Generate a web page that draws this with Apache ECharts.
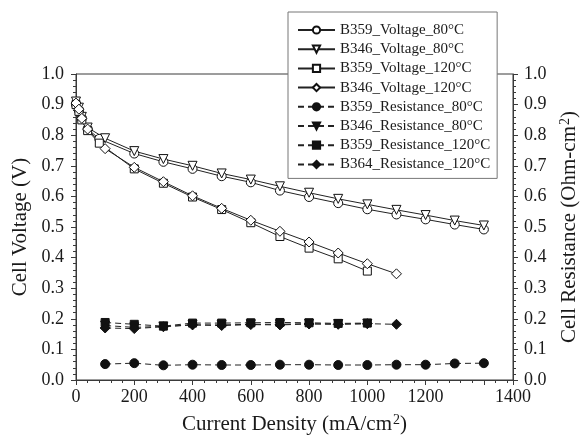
<!DOCTYPE html>
<html><head><meta charset="utf-8">
<script src="https://cdn.jsdelivr.net/npm/echarts@6/dist/echarts.min.js"></script>
<style>html,body{margin:0;padding:0;background:#fff}#c{width:582px;height:442px}</style>
</head><body><div id="c"></div>
<script>
// Current density (mA/cm2)
var xB359V = [0, 10, 20, 40, 80, 200, 300, 400, 500, 600, 700, 800, 900, 1000, 1100, 1200, 1300, 1400];
var xB346V = [0, 10, 20, 40, 100, 200, 300, 400, 500, 600, 700, 800, 900, 1000, 1100, 1200, 1300, 1400];
var xB359V120 = [0, 10, 20, 40, 80, 200, 300, 400, 500, 600, 700, 800, 900, 1000];
var xB346V120 = [0, 10, 20, 40, 100, 200, 300, 400, 500, 600, 700, 800, 900, 1000, 1100];
var xRes80a = [100, 200, 300, 400, 500, 600, 700, 800, 900, 1000, 1100, 1200, 1300, 1400];
var xRes80b = [100, 200, 300, 400, 500, 600, 700, 800, 900, 1000];
var xRes120a = [100, 200, 300, 400, 500, 600, 700, 800, 900, 1000];
var xRes120b = [100, 200, 300, 400, 500, 600, 700, 800, 900, 1000, 1100];

// Cell voltage (V)
var B359_Voltage_80 = [0.900, 0.880, 0.855, 0.820, 0.788, 0.740, 0.713, 0.690, 0.666, 0.646, 0.619, 0.598, 0.578, 0.558, 0.541, 0.525, 0.508, 0.492];
var B346_Voltage_80 = [0.910, 0.890, 0.860, 0.825, 0.790, 0.748, 0.722, 0.700, 0.675, 0.655, 0.633, 0.612, 0.592, 0.574, 0.556, 0.539, 0.521, 0.505];
var B359_Voltage_120 = [0.900, 0.878, 0.850, 0.815, 0.774, 0.690, 0.643, 0.598, 0.557, 0.514, 0.469, 0.431, 0.396, 0.356];
var B346_Voltage_120 = [0.905, 0.885, 0.855, 0.820, 0.756, 0.695, 0.648, 0.602, 0.561, 0.522, 0.486, 0.451, 0.415, 0.380, 0.347];

// Cell resistance (Ohm-cm2)
var B359_Resistance_80 = [0.052, 0.055, 0.048, 0.050, 0.049, 0.049, 0.050, 0.050, 0.049, 0.049, 0.050, 0.050, 0.054, 0.055];
var B346_Resistance_80 = [0.178, 0.172, 0.175, 0.180, 0.180, 0.182, 0.182, 0.184, 0.183, 0.184];
var B359_Resistance_120 = [0.188, 0.182, 0.176, 0.186, 0.186, 0.187, 0.188, 0.187, 0.185, 0.186];
var B364_Resistance_120 = [0.170, 0.168, 0.174, 0.180, 0.178, 0.181, 0.180, 0.183, 0.182, 0.184, 0.182];

var xTickLabelsShown = {0:'0',200:'200',400:'400',600:'600',800:'800',1000:'1000',1200:'1200',1500:'1400'};

function pairs(xs, ys){ return xs.map(function(x,i){ return [x, ys[i]]; }); }

var FONT = 'Liberation Serif';
var AX = '#3a3a3a';
var TXT = '#1a1a1a';

function lineSeries(name, xs, ys, symbol, filled, dashed, axisIdx, rot){
  return {
    name: name, type: 'line', yAxisIndex: axisIdx,
    data: pairs(xs, ys),
    symbol: symbol, symbolSize: symbol === 'rect' ? 8 : (symbol === 'diamond' ? 10 : 9),
    symbolRotate: rot || 0,
    showAllSymbol: true,
    lineStyle: { color: '#222', width: 1, type: dashed ? [6, 4] : 'solid' },
    itemStyle: { color: filled ? '#111' : '#fff', borderColor: '#111', borderWidth: 1 },
    emphasis: { disabled: true },
    animation: false, z: filled ? 3 : 2
  };
}

var axisBase = function(){
  return {
    axisLine: { show: true, lineStyle: { color: AX, width: 1 } },
    axisTick: { show: true, length: 5, lineStyle: { color: AX } },
    minorTick: { show: true, splitNumber: 5, length: 3, lineStyle: { color: AX } },
    splitLine: { show: false }
  };
};
var richName = {
  a: { fontFamily: FONT, fontSize: 21, color: TXT },
  s: { fontFamily: FONT, fontSize: 14, color: TXT, padding: [0, 0, 9, 1] }
};

var xAxis = axisBase();
Object.assign(xAxis, {
  type: 'value', min: 0, max: 1500, interval: 200,
  name: '{a|Current Density (mA/cm}{s|2}{a|)}', nameLocation: 'middle', nameGap: 33,
  nameTextStyle: { fontFamily: FONT, fontSize: 21, color: TXT, rich: richName },
  axisLabel: { fontFamily: FONT, fontSize: 18, color: TXT, margin: 8, showMaxLabel: true, hideOverlap: false,
    formatter: function(v){ return xTickLabelsShown[v] !== undefined ? xTickLabelsShown[v] : ''; } }
});

var yLeft = axisBase();
Object.assign(yLeft, {
  type: 'value', min: 0, max: 1, interval: 0.1, position: 'left',
  name: 'Cell Voltage (V)', nameLocation: 'middle', nameGap: 43,
  nameTextStyle: { fontFamily: FONT, fontSize: 21, color: TXT },
  axisLabel: { fontFamily: FONT, fontSize: 18, color: TXT, margin: 12, formatter: function(v){ return v.toFixed(1); } }
});

var yRight = axisBase();
Object.assign(yRight, {
  type: 'value', min: 0, max: 1, interval: 0.1, position: 'right',
  name: '{a|Cell Resistance (Ohm-cm}{s|2}{a|)}', nameLocation: 'middle', nameGap: 45,
  nameTextStyle: { fontFamily: FONT, fontSize: 21, color: TXT, rich: richName },
  axisLabel: { fontFamily: FONT, fontSize: 18, color: TXT, margin: 11, formatter: function(v){ return v.toFixed(1); } }
});

var option = {
  backgroundColor: '#fff',
  animation: false,
  grid: { left: 76, right: 69, top: 74, bottom: 62, show: true, borderColor: AX, borderWidth: 1, backgroundColor: 'transparent',
          containLabel: false, outerBoundsMode: 'none' },
  xAxis: xAxis,
  yAxis: [yLeft, yRight],
  legend: {
    orient: 'vertical', left: 288, top: 12,
    backgroundColor: '#fff', borderColor: '#777', borderWidth: 1,
    padding: [10, 7, 6, 9],
    itemWidth: 37, itemHeight: 9, itemGap: 3.2,
    textStyle: { fontFamily: FONT, fontSize: 15, color: TXT, lineHeight: 16 },
    data: ['B359_Voltage_80°C','B346_Voltage_80°C','B359_Voltage_120°C','B346_Voltage_120°C',
           'B359_Resistance_80°C','B346_Resistance_80°C','B359_Resistance_120°C','B364_Resistance_120°C'],
    z: 10
  },
  series: [
    lineSeries('B359_Voltage_80°C', xB359V, B359_Voltage_80, 'circle', false, false, 0),
    lineSeries('B346_Voltage_80°C', xB346V, B346_Voltage_80, 'triangle', false, false, 0, 180),
    lineSeries('B359_Voltage_120°C', xB359V120, B359_Voltage_120, 'rect', false, false, 0),
    lineSeries('B346_Voltage_120°C', xB346V120, B346_Voltage_120, 'diamond', false, false, 0),
    lineSeries('B359_Resistance_80°C', xRes80a, B359_Resistance_80, 'circle', true, true, 1),
    lineSeries('B346_Resistance_80°C', xRes80b, B346_Resistance_80, 'triangle', true, true, 1, 180),
    lineSeries('B359_Resistance_120°C', xRes120a, B359_Resistance_120, 'rect', true, true, 1),
    lineSeries('B364_Resistance_120°C', xRes120b, B364_Resistance_120, 'diamond', true, true, 1)
  ]
};
var chart = echarts.init(document.getElementById('c'), null, { renderer: 'canvas' });
chart.setOption(option);
</script>
</body></html>
